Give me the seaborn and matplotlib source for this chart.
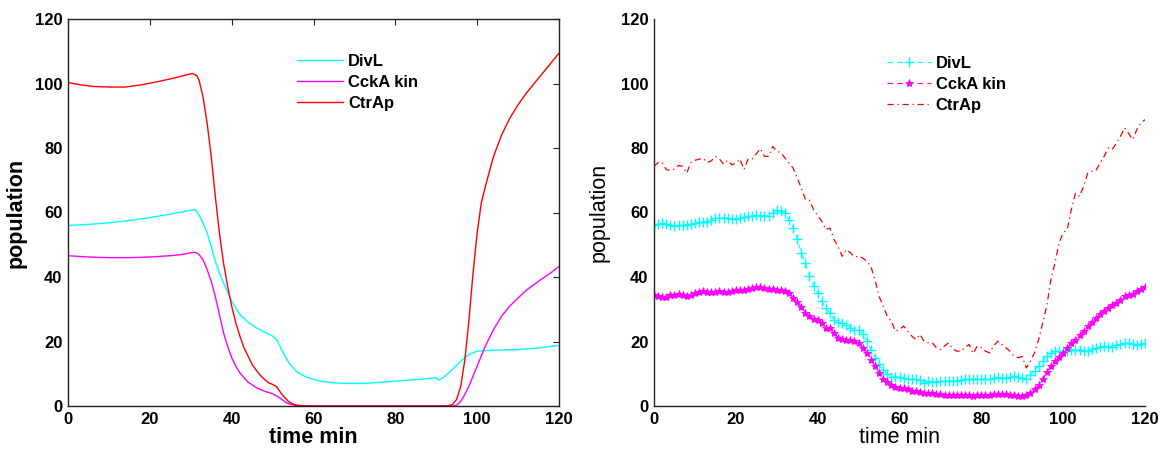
import numpy as np
import pandas as pd
import matplotlib
matplotlib.use("Agg")
import matplotlib.pyplot as plt
import seaborn as sns

# ---------------- data: left panel (deterministic model) ----------------
t_divl_l = [0, 5, 10, 15, 20, 25, 28, 30, 31, 32, 33, 34, 35, 36, 37, 38, 40, 42, 44, 46, 48,
            50, 51, 52, 53, 54, 55, 56, 58, 60, 62, 65, 68, 72, 76, 80, 85, 88, 90, 90.5, 91,
            92, 94, 96, 98, 100, 104, 110, 115, 120]
divl_l = [56.0, 56.3, 56.8, 57.5, 58.4, 59.5, 60.2, 60.7, 60.9, 59.3, 56.8, 53.7, 49.5, 44.9,
          41.3, 38.2, 32.5, 28.4, 26.0, 24.3, 22.9, 21.7, 20.6, 18.1, 15.5, 13.4, 11.9, 10.5,
          9.1, 8.3, 7.6, 7.2, 7.0, 7.0, 7.3, 7.7, 8.2, 8.5, 8.8, 8.0, 8.3, 9.1, 11.4, 13.9,
          16.0, 17.0, 17.3, 17.5, 18.0, 18.8]

t_ccka_l = [0, 5, 10, 15, 20, 25, 28, 30, 31, 32, 33, 34, 35, 36, 37, 38, 39, 40, 41, 42, 43,
            44, 46, 48, 50, 51, 52, 53, 54, 55, 57, 60, 94, 95, 96, 97, 98, 99, 100, 101, 102,
            104, 106, 108, 110, 112, 115, 118, 120]
ccka_l = [46.6, 46.2, 46.0, 46.0, 46.2, 46.6, 47.0, 47.5, 47.7, 47.0, 45.4, 42.3, 38.7, 34.0,
          28.4, 22.7, 18.6, 15.0, 12.4, 10.3, 8.8, 7.4, 5.7, 4.6, 3.8, 3.1, 2.3, 1.3, 0.7, 0.3,
          0.1, 0.0, 0.0, 0.2, 1.5, 3.6, 6.2, 9.3, 12.4, 15.5, 18.6, 23.7, 27.9, 31.0, 33.5,
          35.9, 38.7, 41.3, 43.3]

t_ctra_l = [0, 3, 6, 10, 14, 18, 22, 26, 29, 30.5, 31.5, 32, 33, 34, 35, 36, 37, 38, 39, 40,
            41, 42, 43, 44, 45, 46, 47, 48, 49, 50, 51, 52, 53, 54, 55, 56, 58, 60, 92, 93, 94,
            95, 96, 97, 98, 99, 100, 101, 102, 104, 106, 108, 110, 112, 114, 116, 118, 120]
ctra_l = [100.3, 99.6, 99.1, 98.9, 98.9, 99.6, 100.6, 101.7, 102.7, 103.1, 102.4, 101.1, 95.9,
          87.7, 77.4, 65.0, 53.7, 44.4, 37.2, 31.0, 25.8, 21.7, 18.1, 15.5, 12.9, 11.1, 9.5,
          8.3, 7.2, 6.7, 6.0, 4.1, 2.6, 1.3, 0.6, 0.2, 0.05, 0.0, 0.0, 0.1, 0.5, 2.1, 6.2,
          14.4, 26.8, 41.3, 53.7, 62.9, 68.1, 77.4, 84.1, 89.3, 93.4, 97.0, 100.1, 103.2,
          106.3, 109.4]

# ---------------- data: right panel (stochastic simulation) ----------------
t_right = list(range(0, 121))
divl_r = [56.0, 56.3, 56.6, 56.3, 56.1, 55.8, 56.0, 56.2, 56.1, 56.4, 56.6, 57.0, 57.0, 57.2,
          57.8, 58.2, 58.3, 58.4, 58.2, 57.9, 58.0, 58.2, 58.6, 58.9, 59.0, 59.2, 59.0, 59.0,
          59.0, 59.9, 60.7, 60.4, 59.9, 57.8, 55.2, 51.8, 47.5, 44.4, 40.2, 37.2, 35.1, 32.5,
          30.4, 28.9, 26.8, 26.0, 25.6, 25.0, 24.3, 23.7, 23.5, 22.2, 20.1, 17.5, 15.0, 12.9,
          11.1, 9.8, 9.1, 9.0, 9.1, 8.8, 8.5, 8.4, 8.3, 8.0, 7.2, 7.6, 7.4, 7.3, 7.7, 7.6, 7.7,
          7.8, 7.7, 8.0, 8.3, 8.4, 8.5, 8.3, 8.3, 8.4, 8.5, 8.6, 8.9, 8.8, 8.7, 9.0, 9.3, 9.1,
          8.8, 8.3, 9.5, 10.8, 12.4, 13.9, 15.5, 16.3, 16.9, 17.0, 17.0, 17.2, 17.5, 17.4, 17.5,
          17.2, 17.0, 17.6, 18.1, 18.3, 18.6, 18.4, 18.4, 18.8, 19.1, 19.4, 19.6, 19.2, 19.0,
          19.2, 19.4]
ccka_r = [34.3, 34.0, 33.8, 33.9, 34.3, 34.5, 34.7, 34.5, 34.1, 34.5, 34.9, 35.3, 35.6, 35.4,
          35.3, 35.5, 35.6, 35.5, 35.5, 35.7, 35.9, 36.0, 36.1, 36.3, 36.6, 36.8, 36.9, 36.6,
          36.3, 36.2, 36.1, 35.9, 35.6, 35.1, 33.5, 32.2, 30.8, 28.9, 27.9, 27.0, 26.6, 25.6,
          24.3, 24.3, 22.7, 21.2, 20.8, 20.6, 20.4, 20.1, 19.6, 18.1, 16.5, 14.4, 12.4, 10.3,
          8.5, 7.4, 6.6, 6.0, 5.7, 5.5, 5.2, 4.8, 4.5, 4.3, 4.1, 4.0, 3.9, 3.7, 3.6, 3.4, 3.3,
          3.4, 3.5, 3.5, 3.5, 3.3, 3.1, 3.3, 3.5, 3.5, 3.5, 3.6, 3.7, 3.6, 3.6, 3.5, 3.5, 3.2,
          3.1, 3.3, 4.1, 5.2, 6.4, 8.3, 10.5, 12.4, 13.9, 15.3, 16.5, 18.1, 19.4, 20.6, 21.9,
          23.2, 24.8, 26.0, 27.3, 28.4, 29.4, 30.4, 31.2, 31.8, 33.0, 34.1, 34.3, 34.6, 35.6,
          36.3, 36.9]
ctra_r = [74.3, 75.5, 75.5, 73.3, 73.0, 73.5, 74.6, 74.3, 72.2, 75.5, 76.2, 76.5, 76.8, 75.5,
          76.0, 77.4, 76.6, 75.0, 76.2, 74.8, 75.3, 76.6, 73.3, 76.6, 76.6, 78.2, 79.8, 77.4,
          77.4, 80.5, 79.0, 78.6, 76.9, 75.3, 73.8, 70.7, 67.6, 64.0, 63.8, 60.9, 59.0, 57.3,
          54.7, 55.2, 51.6, 49.5, 46.4, 48.5, 47.5, 46.2, 46.4, 45.9, 44.9, 43.3, 39.2, 34.0,
          31.0, 27.9, 26.3, 23.2, 23.7, 24.8, 23.2, 21.7, 20.6, 22.2, 20.1, 19.6, 19.6, 18.1,
          17.5, 18.6, 19.6, 17.7, 17.0, 17.0, 18.1, 19.1, 16.3, 18.6, 18.1, 17.0, 16.5, 18.6,
          20.1, 19.1, 18.1, 17.0, 15.5, 15.0, 15.3, 11.8, 13.9, 16.5, 20.6, 25.8, 31.0, 39.2,
          44.4, 50.6, 53.7, 54.7, 60.9, 66.0, 65.0, 68.1, 72.2, 72.8, 73.0, 75.3, 77.4, 80.0,
          79.5, 81.5, 83.6, 86.2, 84.5, 82.6, 85.7, 87.7, 88.8]

labels = ["DivL", "CckA kin", "CtrAp"]
xticks = [0, 20, 40, 60, 80, 100, 120]
yticks = [0, 20, 40, 60, 80, 100, 120]

# ---------------- styling ----------------
sns.set_theme(style="white")
plt.rcParams["font.family"] = ["Liberation Sans", "DejaVu Sans"]
plt.rcParams["text.color"] = "black"
plt.rcParams["axes.labelcolor"] = "black"
plt.rcParams["xtick.color"] = "black"
plt.rcParams["ytick.color"] = "black"
plt.rcParams["xtick.direction"] = "in"
plt.rcParams["ytick.direction"] = "in"

CYAN, MAGENTA, RED = "#00FFFF", "#FF00FF", "#FF0000"

fig = plt.figure(figsize=(11.6, 4.5), dpi=100)
axL = fig.add_axes([68 / 1160, 1 - 406 / 450, 491 / 1160, 387 / 450])
axR = fig.add_axes([654 / 1160, 1 - 406 / 450, 491 / 1160, 387 / 450])

# left panel
sns.lineplot(x=t_divl_l, y=divl_l, ax=axL, color=CYAN, lw=1.0, label=labels[0], sort=False)
sns.lineplot(x=t_ccka_l, y=ccka_l, ax=axL, color=MAGENTA, lw=1.0, label=labels[1], sort=False)
sns.lineplot(x=t_ctra_l, y=ctra_l, ax=axL, color=RED, lw=1.0, label=labels[2], sort=False)

# right panel
sns.lineplot(x=t_right, y=divl_r, ax=axR, color=CYAN, lw=0.8, label=labels[0], sort=False,
             marker="+", markersize=6.5, markeredgewidth=1.0, markeredgecolor=CYAN,
             markerfacecolor=CYAN, dashes=False, linestyle=(0, (5, 4)))
sns.lineplot(x=t_right, y=ccka_r, ax=axR, color=MAGENTA, lw=0.8, label=labels[1], sort=False,
             marker="*", markersize=6, markeredgewidth=0.6, markeredgecolor=MAGENTA,
             markerfacecolor=MAGENTA, dashes=False, linestyle=(0, (5, 4)))
sns.lineplot(x=t_right, y=ctra_r, ax=axR, color=RED, lw=0.9, label=labels[2], sort=False,
             dashes=False, linestyle=(0, (5, 3, 1, 3)))

for ax in (axL, axR):
    ax.set_xlim(0, 120)
    ax.set_ylim(0, 120)
    ax.set_xticks(xticks)
    ax.set_yticks(yticks)
    ax.set_xticklabels([str(v) for v in xticks], fontsize=12, fontweight="bold", color="black")
    ax.set_yticklabels([str(v) for v in yticks], fontsize=12, fontweight="bold", color="black")
    ax.set_facecolor("white")
    ax.grid(False)
    for s in ax.spines.values():
        s.set_color("#222222")
        s.set_linewidth(1.0)

axL.tick_params(axis="both", which="both", direction="in", length=4, width=0.8,
                color="#222222", top=True, right=True, pad=4)
axR.tick_params(axis="both", which="both", direction="in", length=4, width=0.8,
                color="#222222", top=False, right=False, pad=4)
axR.spines["top"].set_visible(False)
axR.spines["right"].set_visible(False)

axL.set_xlabel("time min", fontsize=15.5, fontweight="bold", labelpad=0, color="black")
axL.set_ylabel("population", fontsize=15.5, fontweight="bold", labelpad=6, color="black")
axR.set_xlabel("time min", fontsize=15.5, fontweight="normal", labelpad=0, color="black")
axR.set_ylabel("population", fontsize=15.5, fontweight="normal", labelpad=8, color="black")

legL = axL.legend(loc="upper left", bbox_to_anchor=(0.453, 0.927), frameon=False,
                  prop={"weight": "bold", "size": 12}, handlelength=2.75, handletextpad=0.3,
                  labelspacing=0.35, borderaxespad=0)
legR = axR.legend(loc="upper left", bbox_to_anchor=(0.46, 0.922), frameon=False,
                  prop={"weight": "bold", "size": 12}, handlelength=2.65, handletextpad=0.3,
                  labelspacing=0.35, borderaxespad=0)
for leg in (legL, legR):
    for txt in leg.get_texts():
        txt.set_color("black")

fig.savefig("out.png", dpi=100, facecolor="white")
